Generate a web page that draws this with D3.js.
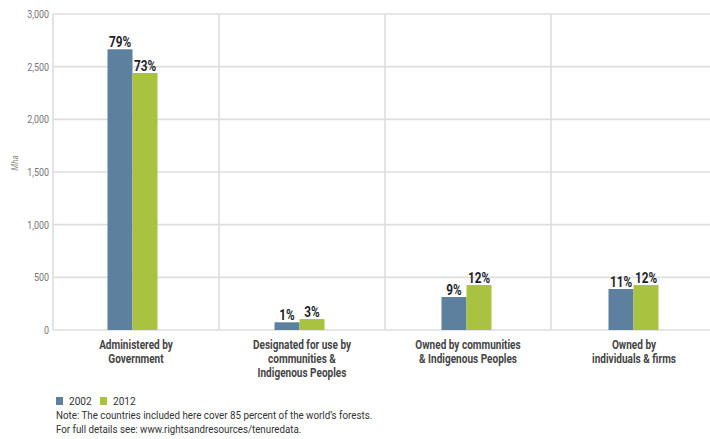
<!DOCTYPE html>
<html>
<head>
<meta charset="utf-8">
<script src="https://cdn.jsdelivr.net/npm/d3@7"></script>
<style>
  html, body { margin: 0; padding: 0; background: #fff; }
  svg { display: block; font-family: "Roboto", "Noto Sans", sans-serif; }
</style>
</head>
<body>
<svg id="chart" width="710" height="439"></svg>
<script>
// Forest tenure by category, million hectares
const categories = [
  ["Administered by", "Government"],
  ["Designated for use by", "communities &", "Indigenous Peoples"],
  ["Owned by communities", "& Indigenous Peoples"],
  ["Owned by", "individuals & firms"]
];
const years = ["2002", "2012"];
const values2002 = [2665, 73, 313, 389];
const values2012 = [2440, 104, 427, 427];
const shares2002 = ["79%", "1%", "9%", "11%"];
const shares2012 = ["73%", "3%", "12%", "12%"];
const yTicks = [0, 500, 1000, 1500, 2000, 2500, 3000];
const notes = [
  "Note: The countries included here cover 85 percent of the world\u2019s forests.",
  "For full details see: www.rightsandresources/tenuredata."
];

const colors = { "2002": "#5d809e", "2012": "#a9c23f" };

const svg = d3.select("#chart");
const plotLeft = 53, plotRight = 717, plotTop = 14, plotBottom = 330;

// narrow text: draw at origin of a translated group, squeezed horizontally
function narrowText(parent, px, py, k) {
  return parent.append("g")
    .attr("transform", `translate(${px},${py}) scale(${k},1)`)
    .append("text");
}

const xCat = d3.scaleBand().domain(d3.range(categories.length)).range([plotLeft, plotRight]);
const xBars = d3.scaleBand().domain(d3.range(categories.length)).range([plotLeft - 4, plotRight]);
const xInner = d3.scaleBand().domain(years).range([0, 50]);
const y = d3.scaleLinear().domain([0, 3000]).range([plotBottom, plotTop]);

const grid = svg.append("g");
// horizontal gridlines
grid.selectAll("line.h").data(yTicks).join("line")
  .attr("x1", plotLeft).attr("x2", 710)
  .attr("y1", d => y(d)).attr("y2", d => y(d))
  .attr("stroke", "#dedede").attr("stroke-width", 1.6);
// vertical separators at category edges
grid.selectAll("line.v").data(xCat.domain()).join("line")
  .attr("x1", d => xCat(d)).attr("x2", d => xCat(d))
  .attr("y1", plotTop).attr("y2", plotBottom)
  .attr("stroke", "#dedede").attr("stroke-width", 1.6);

// y tick labels
const kTick = 0.85;
const yAxis = d3.axisLeft(y).tickValues(yTicks).tickSize(0).tickPadding(4).tickFormat(d3.format(","));
const ya = svg.append("g").attr("transform", `translate(${plotLeft},0)`).call(yAxis);
ya.select(".domain").remove();
ya.selectAll("text")
  .attr("fill", "#767676").attr("font-size", 10.5)
  .style("font-family", "Roboto, sans-serif")
  .attr("x", -4 / kTick)
  .attr("transform", `scale(${kTick},1)`);

// y axis title
svg.append("text")
  .attr("transform", "translate(18,163) rotate(-90) scale(0.85,1)")
  .attr("text-anchor", "middle")
  .attr("font-size", 9.5).attr("font-style", "italic").attr("fill", "#8a8a8a")
  .text("Mha");

const series = [
  { year: "2002", values: values2002, shares: shares2002 },
  { year: "2012", values: values2012, shares: shares2012 }
];

const cx = i => xBars(i) + xBars.bandwidth() / 2 - 25;

series.forEach(s => {
  const g = svg.append("g");
  g.selectAll("rect").data(s.values).join("rect")
    .attr("x", (d, i) => cx(i) + xInner(s.year))
    .attr("width", xInner.bandwidth())
    .attr("y", d => y(d))
    .attr("height", d => y(0) - y(d))
    .attr("fill", colors[s.year]);
  // share labels above the bars
  s.values.forEach((d, i) => {
    narrowText(g, cx(i) + xInner(s.year) + xInner.bandwidth() / 2, y(d) - 2, 0.76)
      .attr("text-anchor", "middle")
      .attr("font-size", 15.5).attr("font-weight", "bold").attr("fill", "#1e1e28")
      .text(s.shares[i]);
  });
});

// category labels
const catG = svg.append("g");
categories.forEach((lines, i) => {
  const t = narrowText(catG, xCat(i) + xCat.bandwidth() / 2, 348.5, 0.76)
    .attr("text-anchor", "middle")
    .attr("font-size", 13.2).attr("font-weight", "bold").attr("fill", "#454545");
  lines.forEach((ln, j) => {
    t.append("tspan").attr("x", 0).attr("dy", j === 0 ? 0 : 14.3).text(ln);
  });
});

// legend
const legend = svg.append("g").attr("transform", "translate(56,397)");
const lx = [0, 44];
years.forEach((yr, i) => {
  legend.append("rect").attr("x", lx[i]).attr("y", 0).attr("width", 7).attr("height", 8).attr("fill", colors[yr]);
  narrowText(legend, lx[i] + 13, 8.3, 0.88)
    .attr("font-size", 11.5).attr("fill", "#333").text(yr);
});

// notes
notes.forEach((d, i) => {
  narrowText(svg, 56, 419.3 + i * 14, 0.85)
    .attr("font-size", 11.5).attr("fill", "#333")
    .text(d);
});
</script>
</body>
</html>
